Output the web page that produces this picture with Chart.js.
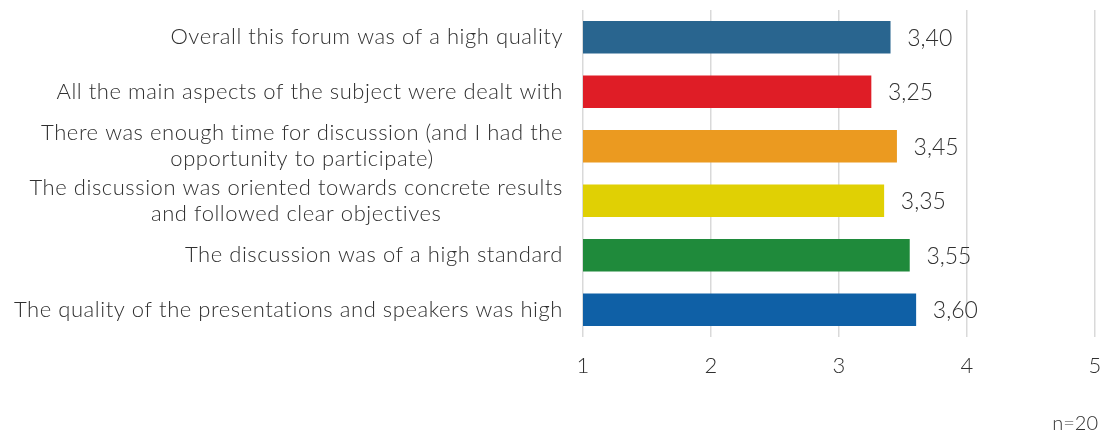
<!DOCTYPE html>
<html><head><meta charset="utf-8">
<script src="https://cdn.jsdelivr.net/npm/chart.js@4"></script>
<style>html,body{margin:0;padding:0;background:#fff}#wrap{width:1118px;height:434px;position:relative}</style>
</head><body><div id="wrap"><canvas id="c"></canvas></div>
<script>
const categories = [
  ["Overall this forum was of a high quality"],
  ["All the main aspects of the subject were dealt with"],
  ["There was enough time for discussion (and I had the", "opportunity to participate)"],
  ["The discussion was oriented towards concrete results", "and followed clear objectives"],
  ["The discussion was of a high standard"],
  ["The quality of the presentations and speakers was high"]
];
const values = [3.40, 3.25, 3.45, 3.35, 3.55, 3.60];
const valueLabels = ["3,40", "3,25", "3,45", "3,35", "3,55", "3,60"];
const barColors = ["#29658F", "#DF1D26", "#EB9A20", "#E0D004", "#1F8A3B", "#0F60A6"];
const xTicks = [1, 2, 3, 4, 5];
const note = "n=20";

const FONT = "'Lato', 'Open Sans', sans-serif";
const TXT = "#303030";

const labelPlugin = {
  id: 'customLabels',
  afterDraw(chart) {
    const ctx = chart.ctx;
    const ys = chart.scales.y;
    ctx.save();
    ctx.fillStyle = TXT;
    ctx.font = "300 22px " + FONT;
    ctx.letterSpacing = "0.55px";
    ctx.textBaseline = 'middle';
    const rightEdge = 563, lh = 26;
    categories.forEach((lines, i) => {
      const yc = ys.getPixelForValue(i);
      let w = 0;
      lines.forEach(l => { w = Math.max(w, ctx.measureText(l).width); });
      const cx = rightEdge - w / 2;
      ctx.textAlign = 'center';
      lines.forEach((l, k) => {
        const y = yc + (k - (lines.length - 1) / 2) * lh;
        ctx.fillText(l, cx, y);
      });
    });
    ctx.letterSpacing = "0px";
    // value labels
    ctx.font = "300 23px " + FONT;
    ctx.textAlign = 'left';
    const meta = chart.getDatasetMeta(0);
    meta.data.forEach((bar, i) => {
      ctx.fillText(valueLabels[i], bar.x + 17, bar.y + 1);
    });
    // note
    ctx.font = "300 20px " + FONT;
    ctx.textAlign = 'right';
    ctx.fillText(note, 1098, 424);
    ctx.restore();
  }
};

new Chart(document.getElementById('c'), {
  type: 'bar',
  data: {
    labels: categories.map(c => c.join(' ')),
    datasets: [{
      data: values,
      backgroundColor: barColors,
      borderWidth: 0,
      barThickness: 32
    }]
  },
  options: {
    indexAxis: 'y',
    responsive: true,
    maintainAspectRatio: false,
    animation: false,
    layout: { padding: { top: 10, right: 23, left: 0, bottom: 0 } },
    plugins: { legend: { display: false }, tooltip: { enabled: false } },
    scales: {
      x: {
        min: 1, max: 5,
        afterBuildTicks(scale) { scale.ticks = xTicks.map(v => ({ value: v })); },
        afterFit(scale) { scale.height = 97; },
        grid: { color: '#D9D9D9', lineWidth: 1.5, drawTicks: false },
        border: { display: false },
        ticks: { color: TXT, font: { family: FONT, size: 22, weight: '300' }, padding: 16 }
      },
      y: {
        afterFit(scale) { scale.width = 583; },
        grid: { display: false },
        border: { display: false },
        ticks: { display: false }
      }
    }
  },
  plugins: [labelPlugin]
});
</script></body></html>
